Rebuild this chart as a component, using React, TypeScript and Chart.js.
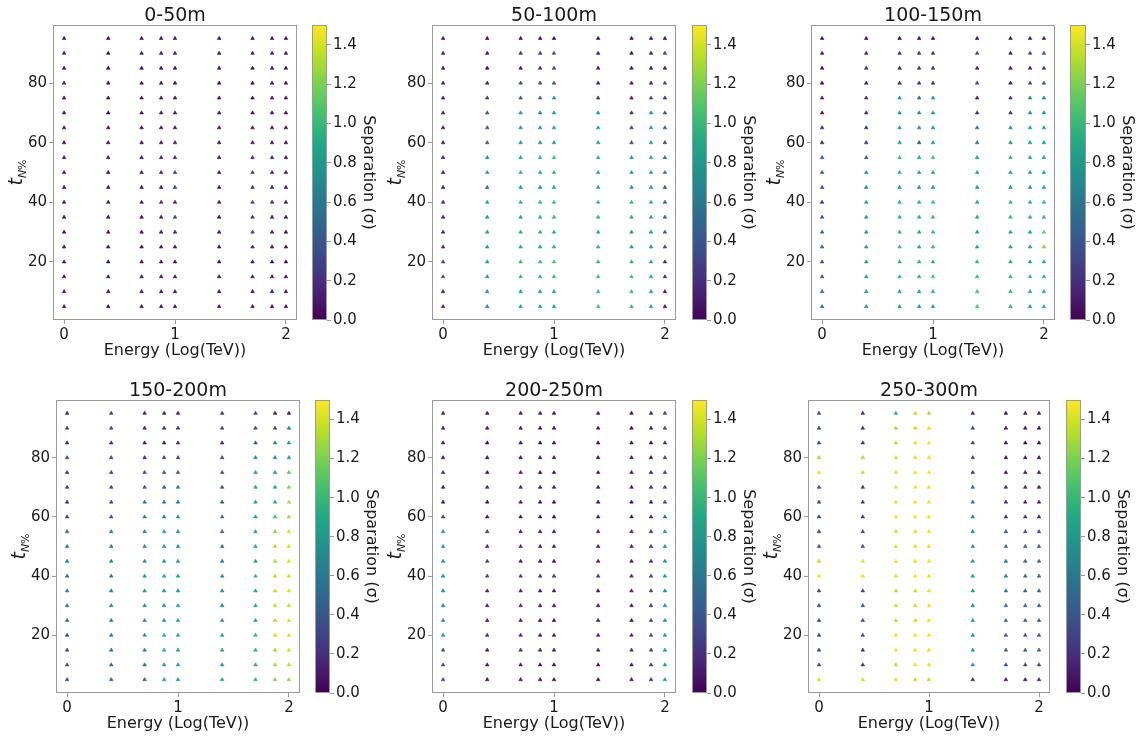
import React, { useEffect, useRef } from 'react';
import { Chart, registerables } from 'chart.js';
Chart.register(...registerables);

// ---------------- data ----------------
const ENERGY_LOG = [0, 0.398, 0.699, 0.875, 1.0, 1.398, 1.699, 1.875, 2.0];
const T_LEVELS = [95, 90, 85, 80, 75, 70, 65, 60, 55, 50, 45, 40, 35, 30, 25, 20, 15, 10, 5];
const X_TICKS = [0, 1, 2];
const Y_TICKS = [20, 40, 60, 80];
const CB_TICKS = [0, 0.2, 0.4, 0.6, 0.8, 1.0, 1.2, 1.4];
const TITLES = ['0-50m', '50-100m', '100-150m', '150-200m', '200-250m', '250-300m'];
const X_LABEL = 'Energy (Log(TeV))';
const CB_LABEL = 'Separation (σ)';

// each panel: one list per energy column, values for T_LEVELS (95 -> 5)
const SEP_0_50 = [
  [0.06, 0.08, 0.06, 0.08, 0.06, 0.08, 0.06, 0.06, 0.08, 0.06, 0.06, 0.08, 0.06, 0.06, 0.06, 0.08, 0.06, 0.06, 0.06],
  [0.04, 0.05, 0.04, 0.05, 0.04, 0.05, 0.04, 0.05, 0.06, 0.05, 0.04, 0.08, 0.05, 0.04, 0.05, 0.05, 0.04, 0.04, 0.04],
  [0.05, 0.06, 0.04, 0.05, 0.05, 0.05, 0.05, 0.05, 0.08, 0.08, 0.05, 0.1, 0.05, 0.06, 0.05, 0.05, 0.05, 0.05, 0.05],
  [0.05, 0.08, 0.05, 0.06, 0.06, 0.08, 0.06, 0.08, 0.12, 0.12, 0.1, 0.15, 0.1, 0.1, 0.08, 0.06, 0.06, 0.05, 0.05],
  [0.05, 0.1, 0.05, 0.06, 0.06, 0.08, 0.06, 0.1, 0.15, 0.25, 0.3, 0.15, 0.3, 0.15, 0.1, 0.06, 0.06, 0.05, 0.05],
  [0.05, 0.06, 0.05, 0.06, 0.05, 0.06, 0.05, 0.06, 0.08, 0.08, 0.06, 0.1, 0.06, 0.06, 0.05, 0.05, 0.05, 0.05, 0.05],
  [0.05, 0.06, 0.05, 0.06, 0.05, 0.08, 0.06, 0.08, 0.15, 0.25, 0.2, 0.3, 0.25, 0.28, 0.15, 0.1, 0.06, 0.05, 0.05],
  [0.06, 0.08, 0.06, 0.06, 0.05, 0.08, 0.06, 0.08, 0.12, 0.12, 0.1, 0.15, 0.12, 0.1, 0.08, 0.06, 0.05, 0.05, 0.05],
  [0.05, 0.06, 0.05, 0.05, 0.05, 0.06, 0.05, 0.05, 0.08, 0.08, 0.06, 0.1, 0.06, 0.06, 0.05, 0.05, 0.05, 0.05, 0.05],
];
const SEP_50_100 = [
  [0.08, 0.1, 0.08, 0.1, 0.1, 0.12, 0.1, 0.1, 0.15, 0.12, 0.1, 0.15, 0.12, 0.15, 0.15, 0.3, 0.3, 0.15, 0.15],
  [0.05, 0.05, 0.02, 0.15, 0.2, 0.4, 0.3, 0.4, 0.7, 0.85, 0.5, 0.9, 0.85, 0.85, 0.8, 0.85, 0.8, 0.7, 0.7],
  [0.05, 0.2, 0.1, 0.3, 0.4, 0.8, 0.75, 0.8, 0.9, 0.95, 0.85, 0.95, 0.9, 0.95, 0.9, 1.0, 1.0, 0.85, 0.85],
  [0.05, 0.2, 0.15, 0.3, 0.4, 0.7, 0.8, 0.8, 0.95, 0.95, 0.8, 1.0, 0.95, 0.95, 0.9, 1.0, 0.95, 0.85, 0.85],
  [0.05, 0.3, 0.3, 0.4, 0.8, 0.85, 0.85, 0.85, 1.0, 1.0, 0.9, 1.0, 1.0, 0.95, 0.95, 1.05, 1.0, 0.85, 0.85],
  [0.05, 0.1, 0.1, 0.1, 0.2, 0.85, 0.85, 0.85, 0.95, 0.9, 0.9, 1.0, 1.0, 0.9, 0.95, 1.0, 1.0, 1.0, 1.05],
  [0.05, 0.05, 0.05, 0.1, 0.1, 0.2, 0.3, 0.3, 0.8, 0.85, 0.8, 0.95, 0.95, 0.85, 0.85, 0.95, 1.0, 1.0, 1.0],
  [0.05, 0.1, 0.1, 0.15, 0.3, 0.8, 0.85, 0.85, 0.95, 0.85, 0.8, 0.95, 0.9, 0.85, 0.8, 0.9, 0.9, 0.85, 0.85],
  [0.05, 0.3, 0.1, 0.3, 0.2, 0.4, 0.4, 0.3, 0.55, 0.6, 0.4, 0.5, 0.5, 0.45, 0.3, 0.2, 0.15, 0.1, 0.1],
];
const SEP_100_150 = [
  [0.05, 0.1, 0.05, 0.05, 0.1, 0.1, 0.15, 0.15, 0.35, 0.35, 0.3, 0.2, 0.4, 0.5, 0.5, 0.3, 0.3, 0.5, 0.5],
  [0.05, 0.15, 0.15, 0.1, 0.15, 0.15, 0.15, 0.2, 0.4, 0.8, 0.7, 0.85, 0.85, 0.75, 0.8, 0.8, 0.85, 0.8, 0.8],
  [0.05, 0.2, 0.15, 0.15, 0.8, 0.8, 0.8, 0.9, 1.0, 0.95, 0.85, 0.95, 0.95, 1.0, 1.0, 0.95, 0.95, 0.9, 0.85],
  [0.05, 0.2, 0.2, 0.2, 0.5, 0.7, 0.8, 0.4, 0.9, 0.85, 0.8, 0.95, 0.95, 0.9, 0.9, 0.95, 0.95, 0.85, 0.8],
  [0.05, 0.2, 0.2, 0.2, 0.8, 0.85, 0.85, 0.85, 1.0, 0.9, 0.8, 1.0, 1.0, 1.0, 1.0, 0.95, 1.05, 0.95, 0.85],
  [0.05, 0.3, 0.1, 0.3, 0.1, 0.2, 0.6, 0.6, 0.85, 0.85, 0.8, 0.9, 0.9, 0.85, 0.85, 0.95, 1.0, 1.05, 1.05],
  [0.05, 0.1, 0.1, 0.1, 0.15, 0.2, 0.8, 0.8, 0.95, 0.9, 0.8, 1.0, 1.0, 0.9, 0.85, 0.9, 0.95, 0.95, 0.95],
  [0.1, 0.3, 0.1, 0.3, 0.7, 0.8, 0.85, 0.85, 0.9, 0.85, 0.8, 0.95, 0.95, 0.9, 0.85, 0.9, 0.95, 0.95, 0.9],
  [0.1, 0.35, 0.2, 0.5, 0.7, 0.8, 0.85, 0.85, 0.9, 0.9, 0.85, 1.0, 1.0, 1.15, 1.2, 0.95, 0.95, 0.95, 0.95],
];
const SEP_150_200 = [
  [0.1, 0.25, 0.15, 0.3, 0.2, 0.2, 0.2, 0.25, 0.5, 0.55, 0.6, 0.55, 0.7, 0.6, 0.5, 0.3, 0.3, 0.35, 0.35],
  [0.25, 0.3, 0.15, 0.3, 0.3, 0.3, 0.35, 0.4, 0.6, 0.6, 0.65, 0.6, 0.7, 0.65, 0.65, 0.6, 0.55, 0.5, 0.45],
  [0.1, 0.15, 0.1, 0.15, 0.3, 0.35, 0.65, 0.65, 0.7, 0.7, 0.75, 0.8, 0.85, 0.7, 0.7, 0.75, 0.7, 0.55, 0.45],
  [0.1, 0.15, 0.1, 0.25, 0.4, 0.45, 0.6, 0.7, 0.85, 0.8, 0.8, 0.95, 0.85, 0.85, 0.75, 0.95, 0.95, 0.85, 0.85],
  [0.1, 0.2, 0.15, 0.25, 0.4, 0.65, 0.65, 0.8, 0.75, 0.75, 0.75, 0.9, 0.8, 0.85, 0.9, 0.9, 0.9, 0.85, 0.8],
  [0.2, 0.25, 0.15, 0.3, 0.35, 0.35, 0.45, 0.5, 0.5, 0.55, 0.6, 0.75, 0.75, 0.7, 0.75, 0.9, 0.9, 0.85, 0.85],
  [0.25, 0.3, 0.4, 0.7, 0.8, 0.85, 0.85, 0.85, 0.85, 0.85, 0.85, 1.0, 0.9, 0.9, 0.85, 0.95, 0.95, 0.95, 0.95],
  [0.1, 0.35, 0.7, 0.75, 0.8, 0.9, 0.95, 1.05, 1.2, 1.3, 1.3, 1.35, 1.35, 1.35, 1.3, 1.35, 1.3, 1.3, 1.2],
  [0.1, 0.7, 0.8, 0.85, 1.1, 1.2, 1.3, 1.3, 1.4, 1.4, 1.4, 1.4, 1.4, 1.35, 1.4, 1.4, 1.4, 1.35, 1.25],
];
const SEP_200_250 = [
  [0.1, 0.1, 0.1, 0.1, 0.15, 0.1, 0.1, 0.3, 0.8, 0.8, 0.75, 0.8, 0.8, 0.75, 0.75, 0.8, 0.4, 0.35, 0.3],
  [0.05, 0.1, 0.05, 0.05, 0.05, 0.15, 0.05, 0.1, 0.25, 0.15, 0.3, 0.3, 0.15, 0.15, 0.1, 0.15, 0.1, 0.1, 0.05],
  [0.1, 0.1, 0.05, 0.05, 0.1, 0.15, 0.1, 0.1, 0.15, 0.15, 0.1, 0.3, 0.15, 0.15, 0.1, 0.15, 0.2, 0.1, 0.1],
  [0.1, 0.05, 0.05, 0.05, 0.05, 0.1, 0.05, 0.05, 0.1, 0.1, 0.05, 0.25, 0.1, 0.1, 0.05, 0.1, 0.15, 0.05, 0.05],
  [0.05, 0.05, 0.05, 0.05, 0.05, 0.1, 0.05, 0.05, 0.1, 0.1, 0.05, 0.25, 0.1, 0.1, 0.05, 0.1, 0.15, 0.05, 0.05],
  [0.05, 0.1, 0.05, 0.05, 0.1, 0.1, 0.05, 0.1, 0.15, 0.1, 0.1, 0.25, 0.1, 0.1, 0.1, 0.15, 0.15, 0.1, 0.05],
  [0.05, 0.05, 0.05, 0.05, 0.05, 0.1, 0.05, 0.1, 0.15, 0.1, 0.1, 0.2, 0.15, 0.1, 0.05, 0.15, 0.2, 0.1, 0.1],
  [0.1, 0.1, 0.05, 0.05, 0.1, 0.15, 0.1, 0.15, 0.2, 0.2, 0.15, 0.35, 0.3, 0.25, 0.3, 0.3, 0.3, 0.3, 0.2],
  [0.3, 0.3, 0.2, 0.3, 0.3, 0.3, 0.35, 0.55, 0.75, 0.75, 0.75, 0.85, 0.8, 0.8, 0.8, 0.85, 0.85, 0.85, 0.85],
];
const SEP_250_300 = [
  [0.3, 0.3, 0.3, 1.3, 1.45, 0.3, 0.3, 0.3, 0.25, 0.3, 1.35, 1.45, 0.3, 0.3, 0.3, 0.3, 0.3, 0.3, 1.4],
  [0.15, 0.2, 0.2, 1.3, 1.35, 0.25, 0.25, 0.2, 0.3, 0.35, 1.4, 1.45, 0.3, 0.4, 0.3, 0.3, 0.2, 0.25, 1.4],
  [0.9, 1.3, 1.35, 1.4, 1.45, 1.45, 1.45, 1.45, 1.4, 1.4, 1.45, 1.45, 1.35, 1.4, 1.35, 1.45, 1.45, 1.35, 1.45],
  [1.35, 1.35, 1.45, 1.4, 1.45, 1.45, 1.45, 1.45, 1.4, 1.4, 1.4, 1.45, 1.35, 1.35, 1.35, 1.45, 1.45, 1.45, 1.35],
  [1.3, 1.45, 1.45, 1.45, 1.45, 1.45, 1.45, 1.45, 1.45, 1.45, 1.45, 1.45, 1.45, 1.45, 1.45, 1.45, 1.45, 1.45, 1.35],
  [0.15, 0.3, 0.3, 0.3, 0.2, 0.55, 0.6, 0.7, 0.75, 0.75, 0.8, 0.85, 0.8, 0.75, 0.85, 0.8, 0.85, 0.8, 0.2],
  [0.05, 0.1, 0.05, 0.05, 0.1, 0.2, 0.15, 0.2, 0.35, 0.55, 0.55, 0.65, 0.6, 0.55, 0.55, 0.45, 0.45, 0.35, 0.1],
  [0.1, 0.1, 0.05, 0.05, 0.1, 0.15, 0.15, 0.2, 0.35, 0.45, 0.5, 0.55, 0.5, 0.5, 0.45, 0.4, 0.45, 0.3, 0.1],
  [0.1, 0.05, 0.05, 0.05, 0.1, 0.1, 0.15, 0.15, 0.3, 0.45, 0.5, 0.55, 0.5, 0.45, 0.4, 0.4, 0.5, 0.3, 0.15],
];
const PANEL_DATA = [SEP_0_50, SEP_50_100, SEP_100_150, SEP_150_200, SEP_200_250, SEP_250_300];

// ---------------- style / layout ----------------
const X_MIN = -0.1, X_MAX = 2.1, Y_MIN = 0.5, Y_MAX = 99.5, CB_MAX = 1.5;
const FONT = '"DejaVu Sans", sans-serif';
const TEXT_COLOR = '#1a1a1a';
const AXIS_COLOR = '#9a9a9a';
const GEOM = [
  { L: 53, R: 297, T: 25, B: 320, cbL: 312, cbR: 327 },
  { L: 432, R: 676, T: 25, B: 320, cbL: 692, cbR: 707 },
  { L: 811, R: 1055, T: 25, B: 320, cbL: 1070, cbR: 1086 },
  { L: 56, R: 300, T: 400, B: 693, cbL: 315, cbR: 330 },
  { L: 432, R: 676, T: 400, B: 693, cbL: 692, cbR: 707 },
  { L: 808, R: 1050, T: 400, B: 693, cbL: 1066, cbR: 1081 },
];
const AX_W = 50, PAD_T = 30, PAD_R = 8, PAD_B = 45, CB_AX_W = 60;

const VIRIDIS = [
  [68, 1, 84], [72, 36, 117], [65, 68, 135], [53, 95, 141], [42, 120, 142], [33, 145, 140],
  [34, 168, 132], [68, 191, 112], [122, 209, 81], [189, 223, 38], [253, 231, 37],
];
function viridis(t: number): string {
  const c = Math.max(0, Math.min(1, t)) * (VIRIDIS.length - 1);
  const i = Math.min(VIRIDIS.length - 2, Math.floor(c));
  const f = c - i;
  const a = VIRIDIS[i], b = VIRIDIS[i + 1];
  const m = (k: number) => Math.round(a[k] + (b[k] - a[k]) * f);
  return `rgb(${m(0)},${m(1)},${m(2)})`;
}

function Panel({ idx }: { idx: number }) {
  const ref = useRef<HTMLCanvasElement>(null);
  const cbRef = useRef<HTMLCanvasElement>(null);
  const g = GEOM[idx];
  const w = g.R - g.L + AX_W + PAD_R;
  const h = g.B - g.T + PAD_T + PAD_B;
  const cbw = g.cbR - g.cbL + CB_AX_W;

  useEffect(() => {
    const values = PANEL_DATA[idx];
    const points: { x: number; y: number }[] = [];
    const colors: string[] = [];
    ENERGY_LOG.forEach((x, i) => {
      T_LEVELS.forEach((y, j) => {
        points.push({ x, y });
        colors.push(viridis(values[i][j] / CB_MAX));
      });
    });

    const decor = {
      id: 'decor' + idx,
      afterDraw(chart: any) {
        const { ctx, chartArea: ca } = chart;
        ctx.save();
        ctx.strokeStyle = AXIS_COLOR;
        ctx.lineWidth = 1;
        ctx.strokeRect(Math.round(ca.left) + 0.5, Math.round(ca.top) + 0.5, Math.round(ca.right - ca.left) - 1, Math.round(ca.bottom - ca.top) - 1);
        ctx.fillStyle = TEXT_COLOR;
        // title
        ctx.font = `19px ${FONT}`;
        ctx.textAlign = 'center';
        ctx.textBaseline = 'alphabetic';
        ctx.fillText(TITLES[idx], (ca.left + ca.right) / 2, ca.top - 4);
        // x label
        ctx.font = `16px ${FONT}`;
        ctx.fillText(X_LABEL, (ca.left + ca.right) / 2, ca.bottom + 35);
        // y label t_{N%}
        ctx.translate(ca.left - 31, (ca.top + ca.bottom) / 2);
        ctx.rotate(-Math.PI / 2);
        ctx.textAlign = 'left';
        ctx.font = `italic 19px ${FONT}`;
        const wt = ctx.measureText('t').width;
        ctx.font = `italic 11px ${FONT}`;
        const wn = ctx.measureText('N').width;
        ctx.font = `11px ${FONT}`;
        const wp = ctx.measureText('%').width;
        const x0 = -(wt + wn + wp) / 2;
        ctx.font = `italic 19px ${FONT}`;
        ctx.fillText('t', x0, 0);
        ctx.font = `italic 11px ${FONT}`;
        ctx.fillText('N', x0 + wt, 4);
        ctx.font = `11px ${FONT}`;
        ctx.fillText('%', x0 + wt + wn, 4);
        ctx.restore();
      },
    };

    const chart = new Chart(ref.current as HTMLCanvasElement, {
      type: 'scatter',
      data: {
        datasets: [{
          data: points,
          pointStyle: 'triangle',
          pointRadius: 2.1,
          pointHoverRadius: 2.1,
          pointBackgroundColor: colors,
          pointBorderColor: colors,
          pointBorderWidth: 0.6,
        }],
      },
      options: {
        responsive: false,
        animation: false,
        devicePixelRatio: 1,
        events: [],
        layout: { padding: { top: PAD_T, right: PAD_R, left: 0, bottom: 0 } },
        plugins: { legend: { display: false }, tooltip: { enabled: false }, title: { display: false } },
        scales: {
          x: {
            type: 'linear', min: X_MIN, max: X_MAX,
            afterFit: (s: any) => { s.height = PAD_B; },
            afterBuildTicks: (s: any) => { s.ticks = X_TICKS.map((v) => ({ value: v })); },
            grid: { display: true, drawOnChartArea: false, drawTicks: true, tickLength: 4, color: AXIS_COLOR },
            border: { display: false },
            ticks: { font: { family: FONT, size: 15 }, color: TEXT_COLOR, padding: 2, maxRotation: 0, callback: (v: any) => String(v) },
          },
          y: {
            type: 'linear', min: Y_MIN, max: Y_MAX,
            afterFit: (s: any) => { s.width = AX_W; },
            afterBuildTicks: (s: any) => { s.ticks = Y_TICKS.map((v) => ({ value: v })); },
            grid: { display: true, drawOnChartArea: false, drawTicks: true, tickLength: 4, color: AXIS_COLOR },
            border: { display: false },
            ticks: { font: { family: FONT, size: 15 }, color: TEXT_COLOR, padding: 2, callback: (v: any) => String(v) },
          },
        },
      },
      plugins: [decor],
    } as any);

    const cbDecor = {
      id: 'cb' + idx,
      beforeDatasetsDraw(c: any) {
        const { ctx, chartArea: ca, scales } = c;
        const ys = scales.y;
        const grad = ctx.createLinearGradient(0, ys.getPixelForValue(0), 0, ys.getPixelForValue(CB_MAX));
        VIRIDIS.forEach((col, k) => grad.addColorStop(k / (VIRIDIS.length - 1), `rgb(${col[0]},${col[1]},${col[2]})`));
        ctx.save();
        ctx.fillStyle = grad;
        ctx.fillRect(ca.left, ca.top, ca.right - ca.left, ca.bottom - ca.top);
        ctx.strokeStyle = AXIS_COLOR;
        ctx.lineWidth = 1;
        ctx.strokeRect(Math.round(ca.left) + 0.5, Math.round(ca.top) + 0.5, Math.round(ca.right - ca.left) - 1, Math.round(ca.bottom - ca.top) - 1);
        ctx.restore();
      },
      afterDraw(c: any) {
        const { ctx, chartArea: ca } = c;
        ctx.save();
        ctx.fillStyle = TEXT_COLOR;
        ctx.font = `16px ${FONT}`;
        ctx.textAlign = 'center';
        ctx.textBaseline = 'alphabetic';
        ctx.translate(ca.right + 37, (ca.top + ca.bottom) / 2);
        ctx.rotate(Math.PI / 2);
        ctx.fillText(CB_LABEL, 0, 0);
        ctx.restore();
      },
    };

    const cb = new Chart(cbRef.current as HTMLCanvasElement, {
      type: 'scatter',
      data: { datasets: [] },
      options: {
        responsive: false,
        animation: false,
        devicePixelRatio: 1,
        events: [],
        layout: { padding: { top: PAD_T, right: 0, left: 0, bottom: PAD_B } },
        plugins: { legend: { display: false }, tooltip: { enabled: false } },
        scales: {
          x: { type: 'linear', display: false, min: 0, max: 1 },
          y: {
            type: 'linear', position: 'right', min: 0, max: CB_MAX,
            afterFit: (s: any) => { s.width = CB_AX_W; },
            afterBuildTicks: (s: any) => { s.ticks = CB_TICKS.map((v) => ({ value: v })); },
            grid: { display: true, drawOnChartArea: false, drawTicks: true, tickLength: 4, color: AXIS_COLOR },
            border: { display: false },
            ticks: { font: { family: FONT, size: 15 }, color: TEXT_COLOR, padding: 2, callback: (v: any) => Number(v).toFixed(1) },
          },
        },
      },
      plugins: [cbDecor],
    } as any);

    return () => { chart.destroy(); cb.destroy(); };
  }, [idx]);

  return (
    <>
      <canvas ref={ref} width={w} height={h}
        style={{ position: 'absolute', left: g.L - AX_W, top: g.T - PAD_T, width: w, height: h }} />
      <canvas ref={cbRef} width={cbw} height={h}
        style={{ position: 'absolute', left: g.cbL, top: g.T - PAD_T, width: cbw, height: h }} />
    </>
  );
}

export default function App() {
  return (
    <div style={{ position: 'absolute', left: 0, top: 0, width: 1145, height: 738, background: '#ffffff', overflow: 'hidden' }}>
      {TITLES.map((_, i) => <Panel key={i} idx={i} />)}
    </div>
  );
}
